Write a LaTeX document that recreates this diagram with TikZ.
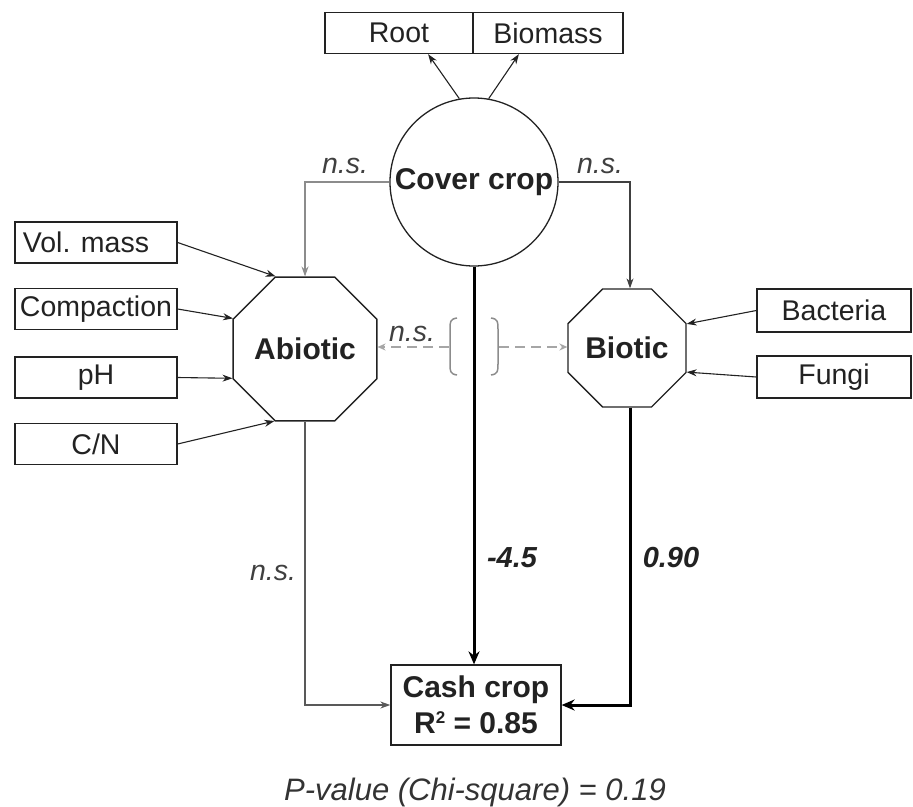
\documentclass[tikz,border=0pt]{standalone}
\usepackage{fontspec}
\setmainfont{Liberation Sans}
\usetikzlibrary{shapes.geometric,arrows.meta,calc}
\definecolor{ink}{HTML}{222222}
\begin{document}
\begin{tikzpicture}[x=1pt,y=-1pt,
  every node/.style={font=\fontsize{28.5}{33}\selectfont, text=ink},
  box/.style={draw=ink, line width=1.3pt, minimum height=41pt, inner sep=0pt},
  boldfont/.style={font=\fontsize{30}{36}\selectfont\bfseries},
  oct/.style={draw=ink, line width=1.3pt, regular polygon, regular polygon sides=8,
    minimum size=127.7pt, inner sep=0pt, boldfont},
  arr/.style={-{Stealth[length=10pt,width=7pt]}, line width=1.1pt, draw=ink},
  thickarr/.style={-{Stealth[length=13pt,width=11pt]}, line width=3pt, draw=black},
  lbl/.style={font=\fontsize{28.5}{33}\selectfont\itshape, text=black!75},
  coef/.style={font=\fontsize{29}{33}\selectfont\bfseries\itshape, text=ink},
  dashline/.style={draw=black!35, line width=2pt, dash pattern=on 10pt off 6pt,
    -{Stealth[length=8pt,width=7pt]}},
]
\useasboundingbox (0,0) rectangle (913,806);

% top
\node[box, minimum width=148pt] (root) at (399,33) {Root};
\node[box, minimum width=150pt] (bio) at (548,33) {Biomass};
\node[circle, draw=ink, line width=1.3pt, minimum size=168pt, inner sep=0pt] (cc) at (474,182) {};
\node[boldfont] (cctext) at (cc.center) {Cover crop};
\draw[arr] (cc.100) -- (root.-36.5);
\draw[arr] (cc.80) -- (bio.-144);

% octagons
\node[oct] (ab) at (305,349) {Abiotic};
\node[oct] (bi) at (627,348) {Biotic};

% cover crop to abiotic / biotic
\draw[arr, draw=black!45] (cc.west) -| (ab.north);
\draw[arr, draw=black!75] (cc.east) -| ([xshift=3pt]bi.north);
\node[lbl] (ns1) at (345,166) {n.s.};
\node[lbl] (ns2) at (600,166) {n.s.};

% left boxes
\node[box, minimum width=162pt] (vm) at (96,242.5) {Vol. mass\hspace*{20pt}};
\node[box, minimum width=162pt] (cp) at (96,309) {Compaction};
\node[box, minimum width=162pt] (ph) at (96,377.5) {pH};
\node[box, minimum width=162pt] (cn) at (96,444) {C/N};
\draw[arr] (vm.east) -- (ab.112.5);
\draw[arr] (cp.east) -- (ab.157.5);
\draw[arr] (ph.east) -- (ab.202.5);
\draw[arr] (cn.east) -- (ab.247.5);

% right boxes
\node[box, minimum width=154pt, minimum height=43pt] (ba) at (834,310.5) {Bacteria};
\node[box, minimum width=154pt, minimum height=42pt] (fu) at (834,377) {Fungi};
\draw[arr] (ba.west) -- (bi.22.5);
\draw[arr] (fu.west) -- (bi.-22.5);

% dashed link with brackets
\coordinate (bl) at (449,347);
\coordinate (br) at (499,347);
\draw[dashline] (bl) -- (bl -| ab.east);
\draw[dashline] (br) -- (br -| bi.west);
\draw[draw=black!45, line width=1.5pt] (457,318) .. controls (450,319) and (450,322) .. (450,329)
  -- (450,364) .. controls (450,371) and (450,374) .. (457,375);
\draw[draw=black!45, line width=1.5pt] (491,318) .. controls (498,319) and (498,322) .. (498,329)
  -- (498,364) .. controls (498,371) and (498,374) .. (491,375);
\node[lbl] (ns3) at (412,334) {n.s.};

% cash crop
\node[box, align=center, minimum width=170pt, minimum height=80pt, boldfont] (cash) at (476,705)
  {Cash crop\\R\raisebox{10pt}{\fontsize{17}{17}\selectfont 2} = 0.85};
\draw[thickarr] (cc.south) -- (cc.south |- cash.north);
\draw[arr, draw=black!65, line width=1.3pt] (ab.south) |- (cash.west);
\draw[thickarr] ([xshift=3pt]bi.south) |- (cash.east);

\node[lbl] (ns4) at (273,573) {n.s.};
\node[coef] (c1) at (512,558) {-4.5};
\node[coef] (c2) at (671,558) {0.90};

\node[font=\fontsize{31}{36}\selectfont\itshape, text=black!80, anchor=base] (pv) at (475,800)
  {P-value (Chi-square) = 0.19};
\end{tikzpicture}
\end{document}
